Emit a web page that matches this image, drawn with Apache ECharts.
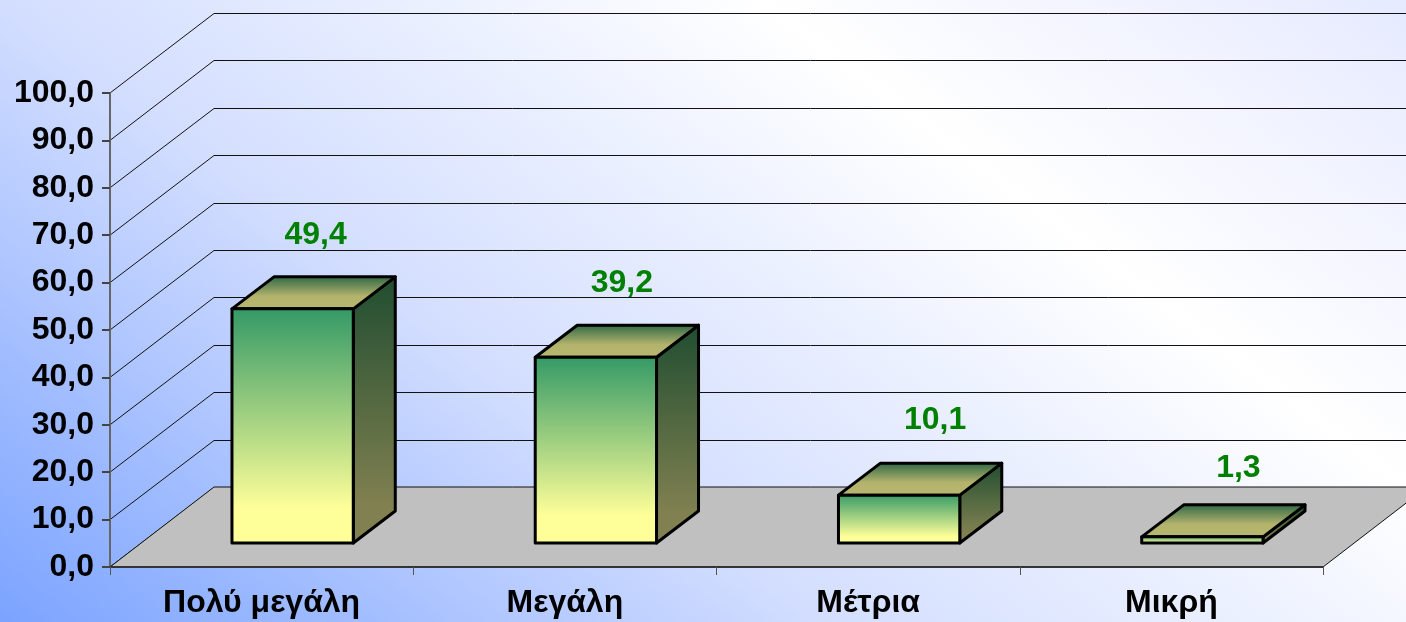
<!DOCTYPE html>
<html>
<head>
<meta charset="utf-8">
<title>Chart</title>
<script src="https://cdn.jsdelivr.net/npm/echarts@6/dist/echarts.min.js"></script>
<style>
html, body { margin: 0; padding: 0; }
#root {
    width: 1406px;
    height: 622px;
    background: linear-gradient(37deg, #7ba3ff 0%, #d3deff 37%, #ffffff 71%, #e6eaff 100%);
}
</style>
</head>
<body>
<div id="root"></div>
<script>
const categories = ['Πολύ μεγάλη', 'Μεγάλη', 'Μέτρια', 'Μικρή'];
const values = [49.4, 39.2, 10.1, 1.3];
const tickValues = [0, 10, 20, 30, 40, 50, 60, 70, 80, 90, 100];

// look of the fake 3d box, in pixels
const roomDepth = [104, -80];
const barDepth = [42, -32];
const barInset = [31, -24];
const labelShift = [[23, -42], [26, -42], [36, -43], [36, -37]];
const font = 'Liberation Sans';

const comma = v => v.toFixed(1).replace('.', ',');

const grad = (x2, y2, stops) => new echarts.graphic.LinearGradient(0, 0, x2, y2,
    stops.map(s => ({ offset: s[0], color: s[1] })));

let myCharts = echarts.init(document.getElementById('root'), null, { renderer: 'canvas' });

function wallLine(params, api) {
    const c = params.coordSys;
    const y = api.coord([0, api.value(1)])[1];
    const back = Math.round(y + roomDepth[1]) + 0.5;
    return {
        type: 'polyline',
        shape: { points: [
            [c.x, y],
            [c.x + roomDepth[0], back],
            [c.x + c.width + roomDepth[0], back]
        ] },
        style: { fill: null, stroke: '#111', lineWidth: 1 }
    };
}

function floor(params, api) {
    const c = params.coordSys;
    const y = c.y + c.height;
    return {
        type: 'polygon',
        shape: { points: [
            [c.x, y],
            [c.x + c.width, y],
            [c.x + c.width + roomDepth[0], y + roomDepth[1]],
            [c.x + roomDepth[0], y + roomDepth[1]]
        ] },
        style: { fill: '#c0c0c0', stroke: '#111', lineWidth: 1 }
    };
}

function box(params, api) {
    const i = api.value(0);
    const top = api.coord([i, api.value(1)]);
    const base = api.coord([i, 0]);
    const w = api.size([1, 0])[0] * 0.4;
    const x0 = top[0] - w / 2 + barInset[0];
    const x1 = x0 + w;
    const y0 = top[1] + barInset[1];
    const y1 = base[1] + barInset[1];
    const dx = barDepth[0], dy = barDepth[1];
    const edge = { stroke: '#000', lineWidth: 3, lineJoin: 'round' };
    const shift = labelShift[i];
    return {
        type: 'group',
        children: [
            {
                type: 'polygon',
                shape: { points: [[x1, y0], [x1 + dx, y0 + dy], [x1 + dx, y1 + dy], [x1, y1]] },
                style: Object.assign({ fill: grad(0, 1, [[0, '#1f4d30'], [0.85, '#808050'], [1, '#808050']]) }, edge)
            },
            {
                type: 'polygon',
                shape: { points: [[x0, y0], [x0 + dx, y0 + dy], [x1 + dx, y0 + dy], [x1, y0]] },
                style: Object.assign({ fill: grad(0, 1, [[0, '#2a6444'], [0.6, '#b3b36c'], [1, '#b8b870']]) }, edge)
            },
            {
                type: 'rect',
                shape: { x: x0, y: y0, width: w, height: y1 - y0 },
                style: Object.assign({ fill: grad(0, 1, [[0, '#339966'], [0.85, '#ffff99'], [1, '#ffff99']]) }, edge)
            },
            {
                type: 'text',
                style: {
                    text: comma(api.value(1)),
                    x: (x0 + x1) / 2 + shift[0],
                    y: y0 + dy + shift[1],
                    align: 'center',
                    verticalAlign: 'middle',
                    fill: '#008000',
                    font: 'bold 32px "' + font + '"'
                }
            }
        ]
    };
}

let option = {
    animation: false,
    grid: { left: 110, right: 83, top: 93, bottom: 55 },
    xAxis: {
        type: 'category',
        data: categories,
        z: 5,
        axisLine: { lineStyle: { color: '#333', width: 2 } },
        axisTick: { show: true, alignWithLabel: false, length: 8, lineStyle: { color: '#555', width: 1 } },
        axisLabel: { color: '#000', fontFamily: font, fontWeight: 'bold', fontSize: 32, margin: 20, interval: 0 }
    },
    yAxis: {
        type: 'value',
        min: 0,
        max: 100,
        interval: 10,
        z: 5,
        splitLine: { show: false },
        axisLine: { show: true, lineStyle: { color: '#666', width: 2 } },
        axisTick: { show: true, length: 8, lineStyle: { color: '#444', width: 2 } },
        axisLabel: { color: '#000', fontFamily: font, fontWeight: 'bold', fontSize: 32, margin: 16, formatter: comma }
    },
    series: [
        { type: 'custom', z: 1, renderItem: wallLine, encode: { x: 0, y: 1 }, data: tickValues.map(v => [0, v]) },
        { type: 'custom', z: 2, renderItem: floor, encode: { x: 0, y: 1 }, data: [[0, 0]] },
        { type: 'custom', z: 3, renderItem: box, encode: { x: 0, y: 1 }, data: values.map((v, i) => [i, v]) }
    ]
};
myCharts.setOption(option);
</script>
</body>
</html>
